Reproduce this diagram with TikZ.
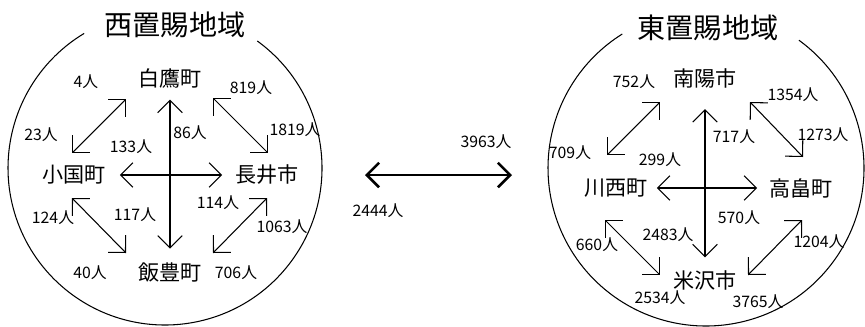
\documentclass[tikz,border=0pt]{standalone}
\usepackage{fontspec}
\setmainfont{Noto Sans CJK JP}
\usepackage{tikz}
\usetikzlibrary{arrows.meta,positioning}

\begin{document}
\begin{tikzpicture}[
    x=0.03cm, y=-0.03cm,
    >={Straight Barb[length=10.5pt, width=21pt]},
    title/.style={inner sep=0pt, font=\fontsize{24}{24}\selectfont},
    town/.style={inner sep=0pt, font=\fontsize{18}{18}\selectfont},
    num/.style={inner sep=0pt, font=\fontsize{13.5}{13.5}\selectfont},
    ring/.style={line width=0.9pt},
    arr/.style={<->, line width=0.9pt},
    flow/.style={<->, line width=2.2pt},
]
\useasboundingbox (0,0) rectangle (865,326);

% Regions
\node[title] (west) at (175,25) {西置賜地域};
\node[title] (east) at (708,28) {東置賜地域};
\draw[ring] (165,168) ++(-54:157) arc[start angle=-54, end angle=239, radius=157];
\draw[ring] (706,168) ++(-54:158) arc[start angle=-54, end angle=238, radius=158];

% Towns (west)
\node[town] (hakutaka) at (170,78) {白鷹町};
\node[town] (oguni) at (74,175) {小国町};
\node[town] (nagai) at (267,175) {長井市};
\node[town] (iide) at (170,272) {飯豊町};

% Towns (east)
\node[town] (nanyo) at (705,78) {南陽市};
\node[town] (kawanishi) at (616,188) {川西町};
\node[town] (takahata) at (801,188) {高畠町};
\node[town] (yonezawa) at (705,280) {米沢市};

% Arrow ends
\coordinate (w-nw1) at (72,153);  \coordinate (w-nw2) at (126,99);
\coordinate (w-ne1) at (213,98);  \coordinate (w-ne2) at (268,153);
\coordinate (w-sw1) at (72,198);  \coordinate (w-sw2) at (126,253);
\coordinate (w-se1) at (267,198); \coordinate (w-se2) at (213,253);
\coordinate (e-nw1) at (607,155); \coordinate (e-nw2) at (660,102);
\coordinate (e-ne1) at (750,102); \coordinate (e-ne2) at (803,157);
\coordinate (e-sw1) at (605,220); \coordinate (e-sw2) at (660,275);
\coordinate (e-se1) at (802,220); \coordinate (e-se2) at (748,275);
\coordinate (mid-l) at (365,175); \coordinate (mid-r) at (512,175);

% Arrows (west)
\draw[arr, shorten <=0.35cm, shorten >=0.4cm] (hakutaka) -- (iide);
\draw[arr, shorten <=0.42cm, shorten >=0.39cm] (oguni) -- (nagai);
\draw[arr] (w-nw1) -- (w-nw2);
\draw[arr] (w-ne1) -- (w-ne2);
\draw[arr] (w-sw1) -- (w-sw2);
\draw[arr] (w-se1) -- (w-se2);

% Arrows (east)
\draw[arr, shorten <=0.63cm, shorten >=0.38cm] (nanyo) -- (yonezawa);
\draw[arr, shorten <=0.27cm, shorten >=0.36cm] (kawanishi) -- (takahata);
\draw[arr] (e-nw1) -- (e-nw2);
\draw[arr] (e-ne1) -- (e-ne2);
\draw[arr] (e-sw1) -- (e-sw2);
\draw[arr] (e-se1) -- (e-se2);

% Between regions
\draw[flow] (mid-l) -- (mid-r);
\node[num] (w2e) at (486,142) {3963人};
\node[num] (e2w) at (378,211) {2444人};

% Counts (west)
\node[num] (n4) at (86,82) {4人};
\node[num] (n819) at (251,88) {819人};
\node[num] (n23) at (41,135) {23人};
\node[num] (n133) at (131,147) {133人};
\node[num] (n86) at (190,133) {86人};
\node[num] (n1819) at (295,130) {1819人};
\node[num] (n124) at (53,218) {124人};
\node[num] (n117) at (135,215) {117人};
\node[num] (n114) at (218,203) {114人};
\node[num] (n1063) at (282,227) {1063人};
\node[num] (n40) at (90,273) {40人};
\node[num] (n706) at (236,273) {706人};

% Counts (east)
\node[num] (n752) at (634,82) {752人};
\node[num] (n1354) at (793,95) {1354人};
\node[num] (n709) at (570,153) {709人};
\node[num] (n299) at (660,160) {299人};
\node[num] (n717) at (734,137) {717人};
\node[num] (n1273) at (823,135) {1273人};
\node[num] (n2483) at (668,235) {2483人};
\node[num] (n570) at (739,218) {570人};
\node[num] (n660) at (597,245) {660人};
\node[num] (n1204) at (819,242) {1204人};
\node[num] (n2534) at (660,298) {2534人};
\node[num] (n3765) at (758,302) {3765人};

\end{tikzpicture}
\end{document}
